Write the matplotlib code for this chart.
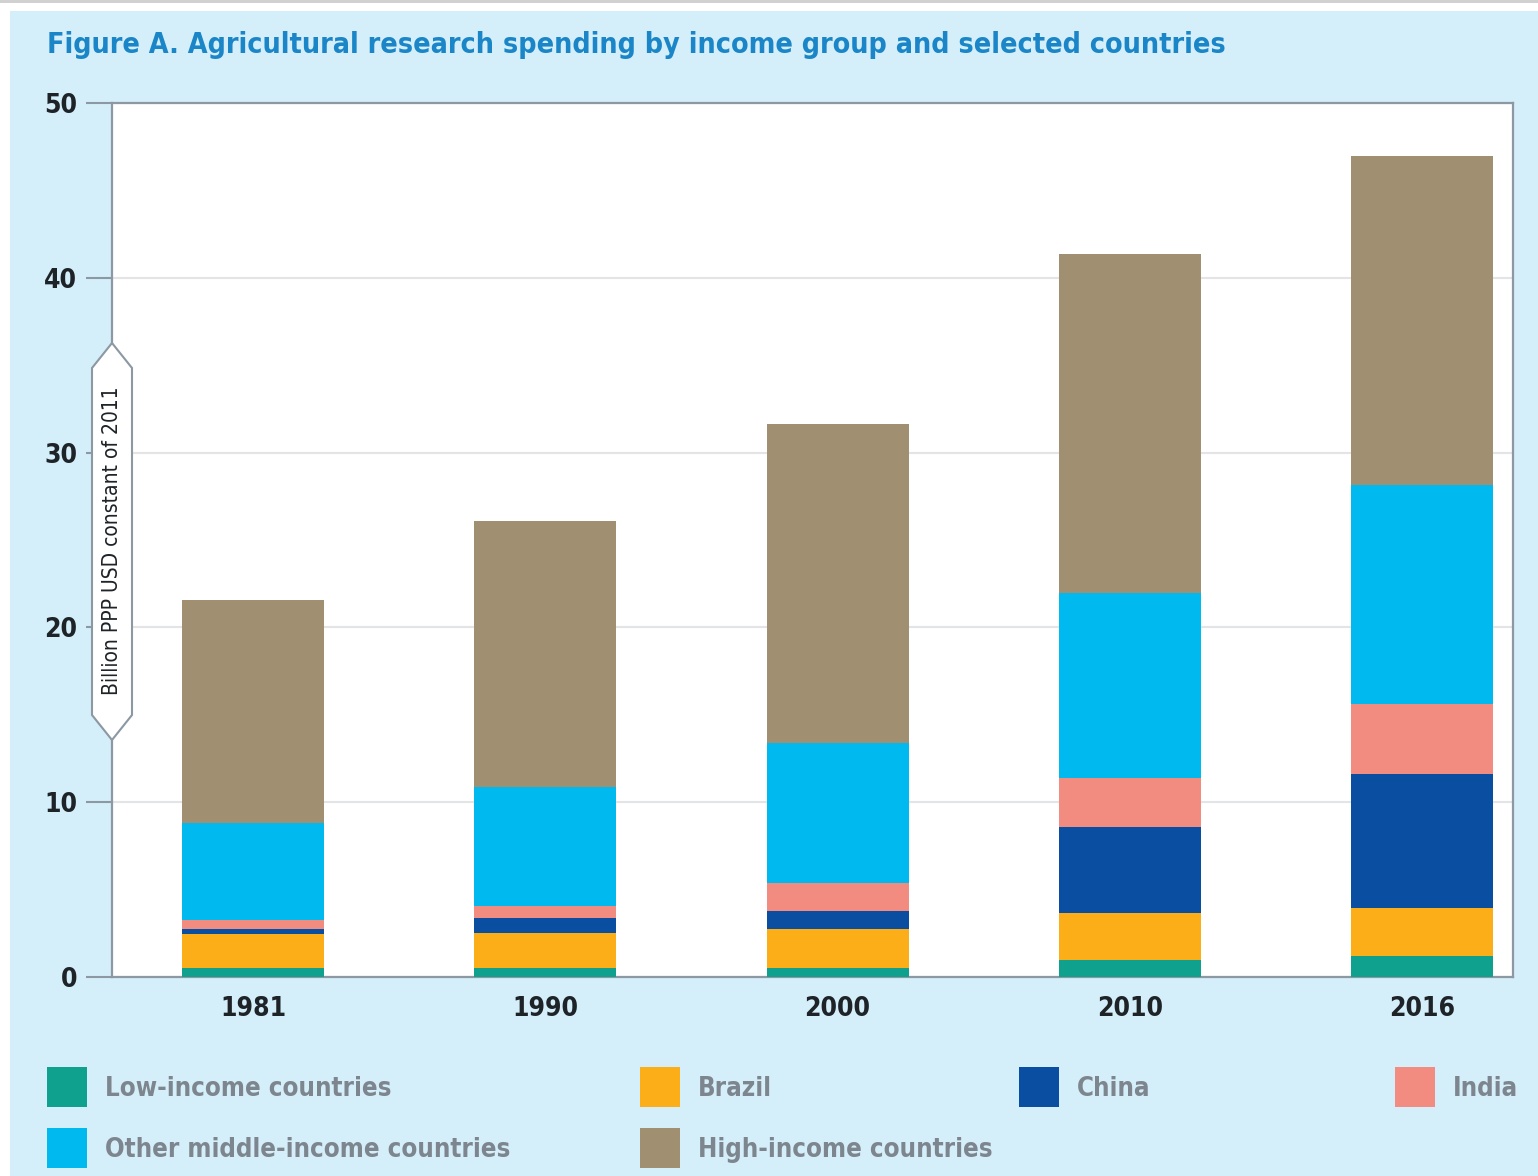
import numpy as np
import matplotlib.pyplot as plt
from matplotlib.patches import Rectangle, Polygon

plt.rcParams['font.family'] = ['DejaVu Sans']
plt.rcParams['font.stretch'] = 'condensed'

# Spending by group, billion PPP USD (constant 2011)
years = ['1981', '1990', '2000', '2010', '2016']
low_income = [0.5, 0.5, 0.5, 0.97, 1.2]
brazil = [1.95, 2.0, 2.25, 2.69, 2.75]
china = [0.3, 0.87, 1.03, 4.92, 7.66]
india = [0.5, 0.7, 1.6, 2.8, 4.0]
other_middle = [5.55, 6.8, 8.0, 10.59, 12.53]
high_income = [12.76, 15.2, 18.25, 19.39, 18.82]

series = [
    ('Low-income countries', low_income, '#10a08e'),
    ('Brazil', brazil, '#fbae17'),
    ('China', china, '#0a4ea2'),
    ('India', india, '#f28b80'),
    ('Other middle-income countries', other_middle, '#00b9ef'),
    ('High-income countries', high_income, '#a08f70'),
]

W, H = 1538, 1176
fig = plt.figure(figsize=(W / 100, H / 100), dpi=100)
fig.patch.set_facecolor('white')

def fx(px):
    return px / W

def fy(py):
    return 1 - py / H

# page background: grey strip on top, light blue panel
fig.patches.append(Rectangle((0, fy(3)), 1, 3 / H, transform=fig.transFigure,
                             facecolor='#d0d0d0', edgecolor='none', zorder=-2))
fig.patches.append(Rectangle((fx(10), 0), 1, fy(11), transform=fig.transFigure,
                             facecolor='#d4eefa', edgecolor='none', zorder=-2))

ax = fig.add_axes([fx(112), fy(977), fx(1513) - fx(112), fy(103) - fy(977)])
ax.set_facecolor('white')

x = np.arange(len(years))
bottom = np.zeros(len(years))
for name, vals, col in series:
    ax.bar(x, vals, width=0.486, bottom=bottom, color=col, label=name, zorder=3)
    bottom += np.array(vals)

ax.set_xlim(-0.4825, 4.311)
ax.set_ylim(0, 50)
ax.set_yticks([0, 10, 20, 30, 40, 50])
ax.set_xticks(x)
ax.set_xticklabels(years)
ax.grid(axis='y', color='#e2e4e6', linewidth=1.5, zorder=0)
ax.set_axisbelow(True)

for s in ax.spines.values():
    s.set_color('#8c98a2')
    s.set_linewidth(1.6)
ax.tick_params(axis='y', length=19, width=1.5, color='#8c98a2', pad=6,
               labelsize=19, labelcolor='#1e2328')
ax.tick_params(axis='x', length=0, pad=14, labelsize=19, labelcolor='#1e2328')
for lbl in ax.get_xticklabels() + ax.get_yticklabels():
    lbl.set_fontweight('semibold')

# y-axis caption inside a double-pointed tag
tag = [(92, 368), (112, 343), (132, 368), (132, 715), (112, 740), (92, 715)]
fig.patches.append(Polygon([(fx(px), fy(py)) for px, py in tag], closed=True,
                           transform=fig.transFigure, facecolor='white',
                           edgecolor='#8c98a2', linewidth=1.5, zorder=5))
fig.text(fx(112), fy(541), 'Billion PPP USD constant of 2011', rotation=90,
         ha='center', va='center', fontsize=15, color='#1e2328', zorder=6)

fig.text(fx(47), fy(45), 'Figure A. Agricultural research spending by income group and selected countries',
         ha='left', va='center', fontsize=20.5, fontweight='bold', color='#1a86c8')

# legend drawn as swatches plus labels
legend_pos = [(47, 1087), (640, 1087), (1019, 1087), (1395, 1087),
              (47, 1148), (640, 1148)]
for (name, vals, col), (px, py) in zip(series, legend_pos):
    fig.patches.append(Rectangle((fx(px), fy(py + 20)), 40 / W, 40 / H,
                                 transform=fig.transFigure, facecolor=col,
                                 edgecolor='none'))
    fig.text(fx(px + 58), fy(py + 2), name, ha='left', va='center',
             fontsize=18.5, fontweight='bold', color='#7d868e')

fig.savefig('out.png', dpi=100)
